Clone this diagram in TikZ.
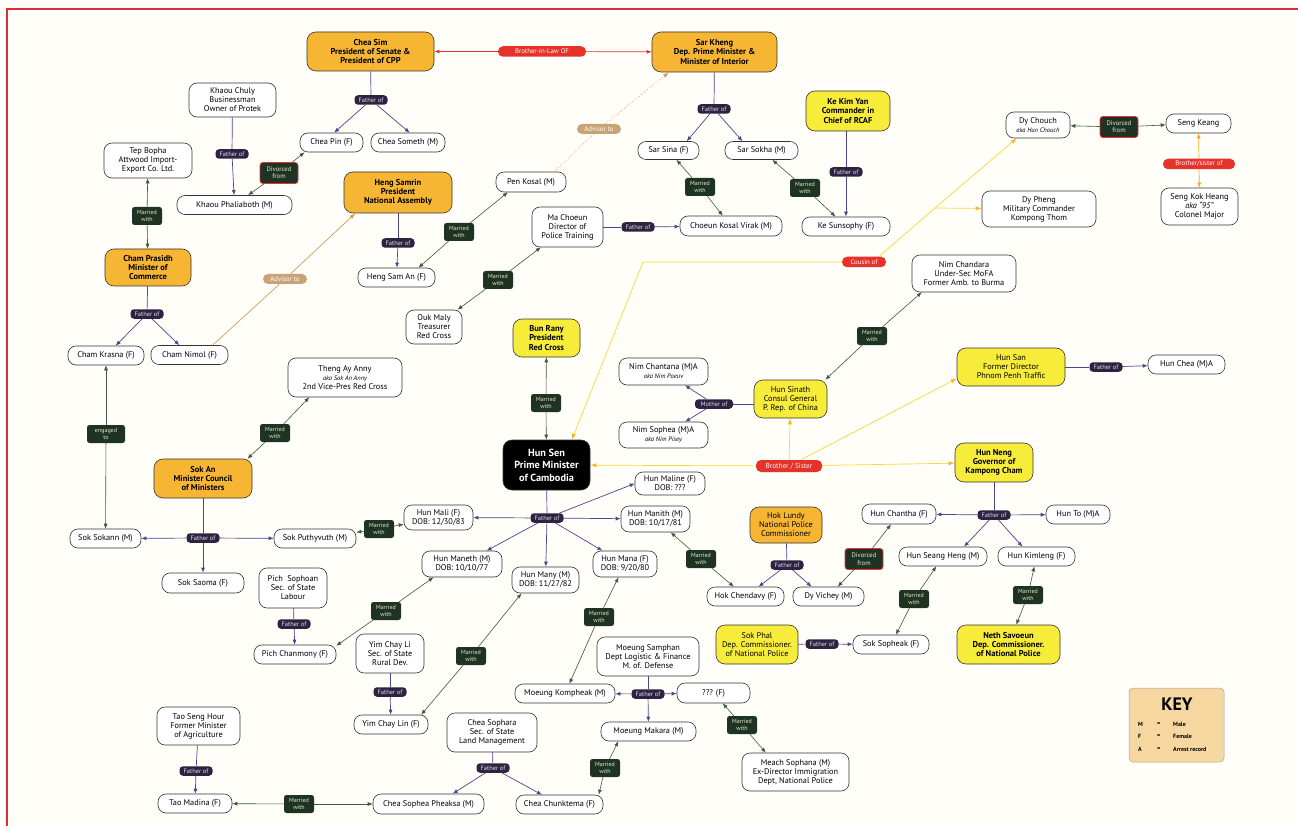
\documentclass[tikz,border=0pt]{standalone}
\usepackage{fontspec}
\setmainfont{PT Sans}
\usetikzlibrary{arrows.meta}
\definecolor{orangeC}{HTML}{F6B634}
\definecolor{yellowC}{HTML}{F8EC3A}
\definecolor{foC}{HTML}{2B2340}
\definecolor{foT}{HTML}{E9DDF0}
\definecolor{foL}{HTML}{4A4590}
\definecolor{mC}{HTML}{1F3325}
\definecolor{mT}{HTML}{E4ECC4}
\definecolor{mL}{HTML}{3C5A3E}
\definecolor{redC}{HTML}{E5322B}
\definecolor{tanC}{HTML}{C9A276}
\definecolor{yL}{HTML}{F8D83C}
\definecolor{yA}{HTML}{F5B52E}
\definecolor{orA}{HTML}{F5A623}
\definecolor{frameC}{HTML}{E02A3A}
\definecolor{keyC}{HTML}{F6D7A0}
\definecolor{bgC}{HTML}{FFFEF8}
\newcommand{\akat}[1]{{\itshape\fontsize{6.5}{7.5}\selectfont #1}}
\begin{document}
\begin{tikzpicture}[x=1pt,y=-1pt,
  pw/.style={draw=black!80, line width=0.6pt, fill=white, rounded corners=8pt, align=center, inner sep=1pt, font=\fontsize{8.3}{9}\selectfont},
  pbo/.style={pw, fill=orangeC, rounded corners=9pt, font=\bfseries\fontsize{8.5}{9.3}\selectfont},
  pro/.style={pw, fill=orangeC, rounded corners=9pt},
  pby/.style={pw, fill=yellowC, rounded corners=9pt, font=\bfseries\fontsize{8.5}{9.3}\selectfont},
  pry/.style={pw, fill=yellowC, rounded corners=9pt},
  pblack/.style={pw, fill=black, text=white, rounded corners=9pt, font=\bfseries\fontsize{10.3}{12.6}\selectfont},
  sz/.style 2 args={minimum width=#1pt, minimum height=#2pt},
  tagfo/.style={fill=foC, text=foT, rounded corners=3.5pt, inner sep=0.8pt, font=\fontsize{6.4}{6.8}\selectfont, minimum width=33pt, minimum height=9.5pt},
  tagm/.style={fill=mC, text=mT, rounded corners=2.5pt, align=center, inner sep=0.5pt, font=\fontsize{6}{6.6}\selectfont, minimum width=30pt, minimum height=18pt},
  tagd/.style={tagm, draw=redC, line width=0.8pt, minimum width=38pt, minimum height=21pt, font=\fontsize{6.6}{7.4}\selectfont, rounded corners=3pt},
  tagr/.style={fill=redC, text=white, rounded corners=5pt, inner sep=1pt, font=\fontsize{6.8}{7}\selectfont, minimum height=10.5pt},
  tagadv/.style={fill=tanC, text=white, rounded corners=5pt, inner sep=1pt, font=\fontsize{6.8}{7}\selectfont, minimum height=10pt, minimum width=44pt},
  lfo/.style={draw=foL, line width=0.7pt},
  afo/.style={lfo, -{Latex[length=5pt,width=4pt]}},
  amar/.style={draw=mL, line width=0.6pt, -{Latex[length=5pt,width=4pt]}},
  ared/.style={draw=redC, line width=0.7pt, -{Latex[length=5pt,width=4pt]}},
  aor/.style={draw=orA, line width=0.7pt, -{Latex[length=5pt,width=4pt]}},
  lyel/.style={draw=yL, line width=0.7pt},
  ayel/.style={lyel, -{Latex[length=6pt,width=4pt,color=yA]}},
  ladv/.style={draw=tanC!80!orange, line width=0.7pt},
  aadv/.style={ladv, -{Latex[length=6pt,width=4pt]}},
  ladvd/.style={draw=tanC!80!orange, line width=0.7pt, dotted},
  aadvd/.style={ladvd, -{Latex[length=6pt,width=4pt]}}
]
\useasboundingbox (0,0) rectangle (1298,826);
\fill[bgC] (0,0) rectangle (1298,826);
\draw[frameC, line width=2.5pt] (7,826) -- (7,9) -- (1298,9);

% ---------- nodes ----------
\node[pbo, sz={127}{39}] (cheasim) at (370.5,51.5) {Chea Sim\\President of Senate \&\\President of CPP};
\node[pbo, sz={125}{40}] (sarkheng) at (714.5,52) {Sar Kheng\\Dep. Prime Minister \&\\Minister of Interior};
\node[tagr, minimum width=88pt] (bil) at (542,51.5) {Brother-in-Law OF};
\node[pw, sz={87}{34}] (khaouchuly) at (232.5,100) {Khaou Chuly\\Businessman\\Owner of Protek};
\node[pw, sz={63}{19}] (cheapin) at (331.5,142.5) {Chea Pin (F)};
\node[pw, sz={74}{19}] (cheasometh) at (408,142.5) {Chea Someth (M)};
\node[tagfo] (fo1) at (371,100) {Father of};
\node[tagfo] (fo2) at (232,154) {Father of};
\node[pw, sz={115}{19}] (khaouphal) at (234.5,205) {Khaou Phaliaboth (M)};
\node[tagd] (d1) at (279,173) {Divorced\\from};
\node[pw, sz={88}{35}] (tepbopha) at (148,160.5) {Tep Bopha\\Attwood Import-\\Export Co. Ltd.};
\node[tagm] (m1) at (147,216) {Married\\with};
\node[pbo, sz={86}{37}] (champrasidh) at (148,267.5) {Cham Prasidh\\Minister of\\Commerce};
\node[tagfo] (fo3) at (147,314) {Father of};
\node[pw, sz={76}{19}] (chamkrasna) at (106,355.5) {Cham Krasna (F)};
\node[pw, sz={77}{19}] (chamnimol) at (189.5,355) {Cham Nimol (F)};
\node[tagadv] (adv1) at (285,279) {Advisor to};
\node[pbo, sz={108}{41}] (hengsamrin) at (398,192.5) {Heng Samrin\\President\\National Assembly};
\node[tagfo] (fo4) at (398,243) {Father of};
\node[pw, sz={77}{19}] (hengsaman) at (396.5,277.5) {Heng Sam An (F)};
\node[tagm] (m2) at (459,232) {Married\\with};
\node[pw, sz={70}{20}] (penkosal) at (531,182) {Pen Kosal (M)};
\node[tagadv] (adv2) at (599,129) {Advisor to};
\node[pw, sz={71}{40}] (machoeun) at (567.5,227) {Ma Choeun\\Director of\\Police Training};
\node[tagfo] (fo5) at (638,227) {Father of};
\node[pw, sz={102}{20}] (choeun) at (731,226) {Choeun Kosal Virak (M)};
\node[tagm] (m3) at (498,280) {Married\\with};
\node[pw, sz={56}{34}] (oukmaly) at (434,327) {Ouk Maly\\Treasurer\\Red Cross};
\node[tagfo] (fo6) at (714,109) {Father of};
\node[pw, sz={61}{18}] (sarsina) at (668.5,150.5) {Sar Sina (F)};
\node[pw, sz={73}{18}] (sarsokha) at (761.5,150.5) {Sar Sokha (M)};
\node[tagm] (m4) at (700,187) {Married\\with};
\node[tagm] (m5) at (805,188) {Married\\with};
\node[pby, sz={84}{40}] (kekimyan) at (848,111) {Ke Kim Yan\\Commander in\\Chief of RCAF};
\node[tagfo] (fo7) at (846,172) {Father of};
\node[pw, sz={88}{19}] (kesunsophy) at (846,226.5) {Ke Sunsophy (F)};
\node[pw, sz={64}{26}] (dychouch) at (1038,125) {Dy Chouch\\\akat{aka Hun Chouch}};
\node[tagd] (d2) at (1119,127) {Divorced\\from};
\node[pw, sz={65}{19}] (sengkeang) at (1198.5,123.5) {Seng Keang};
\node[tagr, minimum width=72pt] (bs1) at (1199,164) {Brother/sister of};
\node[pw, sz={77}{37}] (sengkokheang) at (1199.5,206.5) {Seng Kok Heang\\\textit{aka “95”}\\Colonel Major};
\node[pw, sz={114}{36}] (dypheng) at (1039,209) {Dy Pheng\\Military Commander\\Kompong Thom};
\node[tagr, minimum width=44pt] (cousin) at (864,262) {Cousin of};
\node[pw, sz={104}{37}] (nimchandara) at (964,273.5) {Nim Chandara\\Under-Sec MoFA\\Former Amb. to Burma};
\node[tagm] (m6) at (872,336) {Married\\with};
\node[pry, sz={73}{38}] (hunsinath) at (790.5,399) {Hun Sinath\\Consul General\\P. Rep. of China};
\node[tagfo, minimum width=38pt] (mo) at (714,404) {Mother of};
\node[pw, sz={89}{27}] (nimchantana) at (663.5,371.5) {Nim Chantana (M)A\\\akat{aka Nim Poeuv}};
\node[pw, sz={89}{26}] (nimsophea) at (663.5,435) {Nim Sophea (M)A\\\akat{aka Nim Pisey}};
\node[pry, sz={108}{38}] (hunsan) at (1011,367) {Hun San\\Former Director\\Phnom Penh Traffic};
\node[tagfo] (fo8) at (1106,367) {Father of};
\node[pw, sz={77}{19}] (hunchea) at (1186.5,364.5) {Hun Chea (M)A};
\node[pby, sz={67}{38}] (bunrany) at (546.5,338) {Bun Rany\\President\\Red Cross};
\node[tagm] (m7) at (546,403) {Married\\with};
\node[pblack, sz={87}{50}] (hunsen) at (546.5,465) {Hun Sen\\Prime Minister\\of Cambodia};
\node[tagr, minimum width=66pt, minimum height=12pt, font=\fontsize{7.2}{8}\selectfont] (bs2) at (789,466) {Brother / Sister};
\node[pby, sz={78}{39}] (hunneng) at (994,462.5) {Hun Neng\\Governor of\\Kampong Cham};
\node[tagfo] (fo9) at (994,515) {Father of};
\node[pw, sz={74}{20}] (hunchantha) at (899,514) {Hun Chantha (F)};
\node[pw, sz={64}{19}] (hunto) at (1078,514.5) {Hun To (M)A};
\node[pw, sz={88}{19}] (hunseangheng) at (943,556.5) {Hun Seang Heng (M)};
\node[pw, sz={77}{19}] (hunkimleng) at (1036.5,556.5) {Hun Kimleng (F)};
\node[tagfo] (fo10) at (547,518) {Father of};
\node[pw, sz={69}{25}] (hunmali) at (438.5,517.5) {Hun Mali (F)\\DOB: 12/30/83};
\node[pw, sz={70}{23}] (hunmaline) at (670,483.5) {Hun Maline (F)\\DOB: ???};
\node[pw, sz={69}{26}] (hunmanith) at (655.5,519) {Hun Manith (M)\\DOB: 10/17/81};
\node[pw, sz={80}{26}] (hunmaneth) at (462,564) {Hun Maneth (M)\\DOB: 10/10/77};
\node[pw, sz={67}{26}] (hunmany) at (545.5,580) {Hun Many (M)\\DOB: 11/27/82};
\node[pw, sz={64}{26}] (hunmana) at (625,564) {Hun Mana (F)\\DOB: 9/20/80};
\node[pbo, sz={98}{39}] (sokan) at (203,478.5) {Sok An\\Minister Council\\of Ministers};
\node[pw, sz={114}{39}] (theng) at (345,377.5) {Theng Ay Anny\\\akat{aka Sok An Anny}\\2nd Vice-Pres Red Cross};
\node[tagm] (m8) at (275,433) {Married\\with};
\node[tagm, minimum width=38pt] (e1) at (106,434) {engaged\\to};
\node[tagfo] (fo11) at (203,538) {Father of};
\node[pw, sz={71}{19}] (soksokann) at (105.5,538.5) {Sok Sokann (M)};
\node[pw, sz={82}{19}] (sokputhyvuth) at (315,538.5) {Sok Puthyvuth (M)};
\node[pw, sz={82}{20}] (soksaoma) at (203,583) {Sok Saoma (F)};
\node[tagm] (m9) at (379,529) {Married\\with};
\node[pw, sz={68}{40}] (pichsophoan) at (293,588) {Pich\ \ Sophoan\\Sec. of State\\Labour};
\node[tagfo] (fo12) at (294,624) {Father of};
\node[pw, sz={82}{19}] (pichchanmony) at (295,654.5) {Pich Chanmony (F)};
\node[tagm] (m10) at (386,611) {Married\\with};
\node[pw, sz={68}{39}] (yimchayli) at (390,653.5) {Yim Chay Li\\Sec. of State\\Rural Dev.};
\node[tagfo] (fo13) at (390,692) {Father of};
\node[pw, sz={74}{19}] (yimchaylin) at (391,724.5) {Yim Chay Lin (F)};
\node[tagm] (m11) at (471,656) {Married\\with};
\node[tagm] (m12) at (599,617) {Married\\with};
\node[pw, sz={102}{39}] (moeungsamphan) at (648,656.5) {Moeung Samphan\\Dept Logistic \& Finance\\M. of. Defense};
\node[tagfo] (fo14) at (648,694) {Father of};
\node[pw, sz={100}{19}] (kompheak) at (565,693.5) {Moeung Kompheak (M)};
\node[pw, sz={73}{20}] (qqq) at (713.5,693) {??? (F)};
\node[pw, sz={95}{19}] (makara) at (648.5,731.5) {Moeung Makara (M)};
\node[tagm] (m13) at (742,725) {Married\\with};
\node[pw, sz={107}{38}] (meach) at (795.5,772) {Meach Sophana (M)\\Ex-Director Immigration\\Dept, National Police};
\node[pw, sz={90}{39}] (cheasophara) at (492,732.5) {Chea Sophara\\Sec. of State\\Land Management};
\node[tagfo] (fo15) at (493,768) {Father of};
\node[pw, sz={111}{20}] (pheaksa) at (428.5,804) {Chea Sophea Pheaksa (M)};
\node[pw, sz={87}{19}] (chunktema) at (559.5,804.5) {Chea Chunktema (F)};
\node[tagm] (m14) at (605,768) {Married\\with};
\node[pw, sz={83}{38}] (taosenghour) at (198.5,726) {Tao Seng Hour\\Former Minister\\of Agriculture};
\node[tagfo] (fo16) at (196,771) {Father of};
\node[pw, sz={74}{19}] (taomadina) at (195,803.5) {Tao Madina (F)};
\node[tagm] (m15) at (299,804) {Married\\with};
\node[pro, sz={72}{36}] (hoklundy) at (786,525) {Hok Lundy\\National Police\\Commissioner};
\node[tagfo] (fo17) at (787,565) {Father of};
\node[pw, sz={77}{19}] (hokchendavy) at (745.5,596.5) {Hok Chendavy (F)};
\node[pw, sz={71}{19}] (dyvichey) at (828.5,596.5) {Dy Vichey (M)};
\node[tagm] (m16) at (701,559) {Married\\with};
\node[tagd] (d3) at (864,559) {Divorced\\from};
\node[pry, sz={82}{39}] (sokphal) at (757,644.5) {Sok Phal\\Dep. Commissioner.\\of National Police};
\node[tagfo] (fo18) at (822,644) {Father of};
\node[pw, sz={76}{19}] (soksopheak) at (891,644.5) {Sok Sopheak (F)};
\node[tagm] (m17) at (914,599) {Married\\with};
\node[tagm] (m18) at (1028,595) {Married\\with};
\node[pby, sz={103}{39}] (neth) at (1008.5,644.5) {Neth Savoeun\\Dep. Commissioner.\\of National Police};

% key
\node[draw=black!35, line width=0.5pt, fill=keyC, rounded corners=4pt, sz={95}{74}] (key) at (1176.5,725) {};
\node[font=\bfseries\fontsize{18}{18}\selectfont, inner sep=0pt] (keyt) at (1177,704) {KEY};
\begin{scope}[every node/.style={font=\bfseries\fontsize{6}{6.5}\selectfont, inner sep=0pt, anchor=west}]
\node (k1a) at (1138,724) {M}; \node (k1b) at (1157,724) {=}; \node (k1c) at (1173,724) {Male};
\node (k2a) at (1138,736.5) {F}; \node (k2b) at (1157,736.5) {=}; \node (k2c) at (1173,736.5) {Female};
\node (k3a) at (1138,749) {A}; \node (k3b) at (1157,749) {=}; \node (k3c) at (1173,749) {Arrest record};
\end{scope}

% ---------- connectors ----------
\coordinate (cj) at (935,208);
\coordinate (cl) at (643,262);

\draw[ared] (bil) -- (cheasim);
\draw[ared] (bil) -- (sarkheng);
\draw[lfo] (cheasim) -- (fo1);
\draw[afo] (fo1) -- (cheapin.75);
\draw[afo] (fo1) -- (cheasometh.80);
\draw[lfo] (khaouchuly) -- (fo2);
\draw[afo] (fo2) -- (khaouphal);
\draw[amar] (d1) -- (khaouphal);
\draw[amar] (d1) -- (cheapin.200);
\draw[amar] (m1) -- (tepbopha);
\draw[amar] (m1) -- (champrasidh);
\draw[lfo] (champrasidh) -- (fo3);
\draw[afo] (fo3) -- (chamkrasna);
\draw[afo] (fo3) -- (chamnimol);
\draw[ladv] (chamnimol.23) -- (adv1);
\draw[aadv] (adv1) -- (hengsamrin.206);
\draw[lfo] (hengsamrin) -- (fo4);
\draw[afo] (fo4) -- (hengsaman);
\draw[amar] (m2) -- (hengsaman.24);
\draw[amar] (m2) -- (penkosal.204);
\draw[ladvd] (penkosal.24) -- (adv2);
\draw[aadvd] (adv2) -- (sarkheng.204);
\draw[lfo] (machoeun) -- (fo5);
\draw[afo] (fo5) -- (choeun);
\draw[amar] (m3) -- (oukmaly);
\draw[amar] (m3) -- (machoeun);
\draw[lfo] (sarkheng) -- (fo6);
\draw[afo] (fo6) -- (sarsina.27);
\draw[afo] (fo6) -- (sarsokha.154);
\draw[amar] (m4) -- (sarsina);
\draw[amar] (m4) -- (choeun);
\draw[amar] (m5) -- (sarsokha);
\draw[amar] (m5) -- (kesunsophy);
\draw[lfo] (fo7 |- kekimyan.south) -- (fo7);
\draw[afo] (fo7) -- (kesunsophy);
\draw[amar] (d2) -- (dychouch);
\draw[amar] (d2) -- (sengkeang);
\draw[aor] (bs1) -- (sengkeang);
\draw[aor] (bs1) -- (sengkokheang);
\draw[ayel] (cousin.20) -- (cj) -- (dychouch.212);
\draw[ayel] (cj) -- (dypheng);
\draw[ayel] (cousin) -- (cl) -- (hunsen.45);
\draw[ayel] (bs2) -- (hunsen);
\draw[ayel] (bs2) -- (hunsinath);
\draw[ayel] (bs2) -- (hunsan.192);
\draw[ayel] (bs2) -- (hunneng);
\draw[amar] (m6) -- (hunsinath.29);
\draw[amar] (m6) -- (nimchandara.204);
\draw[lfo] (mo -| hunsinath.west) -- (mo);
\draw[afo] (mo) -- (nimchantana);
\draw[afo] (mo) -- (nimsophea);
\draw[lfo] (hunsan) -- (fo8);
\draw[afo] (fo8) -- (hunchea);
\draw[amar] (m7) -- (bunrany);
\draw[amar] (m7) -- (hunsen);
\draw[lfo] (hunneng) -- (fo9);
\draw[afo] (fo9) -- (hunchantha);
\draw[afo] (fo9) -- (hunto);
\draw[afo] (fo9) -- (hunseangheng.25);
\draw[afo] (fo9) -- (hunkimleng.145);
\draw[lfo] (hunsen) -- (fo10);
\draw[afo] (fo10) -- (hunmali);
\draw[afo] (fo10) -- (hunmaline.west);
\draw[afo] (fo10) -- (hunmanith);
\draw[afo] (fo10) -- (hunmaneth);
\draw[afo] (fo10) -- (hunmany);
\draw[afo] (fo10) -- (hunmana);
\draw[amar] (m8) -- (sokan.24);
\draw[amar] (m8) -- (theng.209);
\draw[amar] (e1) -- (chamkrasna);
\draw[amar] (e1) -- (soksokann);
\draw[lfo] (sokan) -- (fo11);
\draw[afo] (fo11) -- (soksokann);
\draw[afo] (fo11) -- (sokputhyvuth);
\draw[afo] (fo11) -- (soksaoma);
\draw[amar] (m9) -- (sokputhyvuth);
\draw[amar] (m9) -- (hunmali);
\draw[lfo] (pichsophoan) -- (fo12);
\draw[afo] (fo12) -- (pichchanmony);
\draw[amar] (m10) -- (pichchanmony.12);
\draw[amar] (m10) -- (hunmaneth.205);
\draw[lfo] (yimchayli) -- (fo13);
\draw[afo] (fo13) -- (yimchaylin);
\draw[amar] (m11) -- (yimchaylin.18);
\draw[amar] (m11) -- (hunmany.209);
\draw[amar] (m12) -- (hunmana);
\draw[amar] (m12) -- (kompheak);
\draw[lfo] (moeungsamphan) -- (fo14);
\draw[afo] (fo14) -- (kompheak);
\draw[afo] (fo14) -- (qqq);
\draw[afo] (fo14) -- (makara);
\draw[amar] (m13) -- (qqq);
\draw[amar] (m13) -- (meach.147);
\draw[lfo] (cheasophara) -- (fo15);
\draw[afo] (fo15) -- (pheaksa.23);
\draw[afo] (fo15) -- (chunktema.151);
\draw[amar] (m14) -- (chunktema.14);
\draw[amar] (m14) -- (makara.198);
\draw[lfo] (taosenghour) -- (fo16);
\draw[afo] (fo16) -- (taomadina);
\draw[amar] (m15) -- (taomadina);
\draw[amar] (m15) -- (pheaksa);
\draw[lfo] (hoklundy) -- (fo17);
\draw[afo] (fo17) -- (hokchendavy.37);
\draw[afo] (fo17) -- (dyvichey.150);
\draw[amar] (m16) -- (hunmanith);
\draw[amar] (m16) -- (hokchendavy);
\draw[amar] (d3) -- (dyvichey);
\draw[amar] (d3) -- (hunchantha);
\draw[lfo] (sokphal) -- (fo18);
\draw[afo] (fo18) -- (soksopheak);
\draw[amar] (m17) -- (hunseangheng);
\draw[amar] (m17) -- (soksopheak);
\draw[amar] (m18) -- (hunkimleng);
\draw[amar] (m18) -- (neth);
\end{tikzpicture}
\end{document}
